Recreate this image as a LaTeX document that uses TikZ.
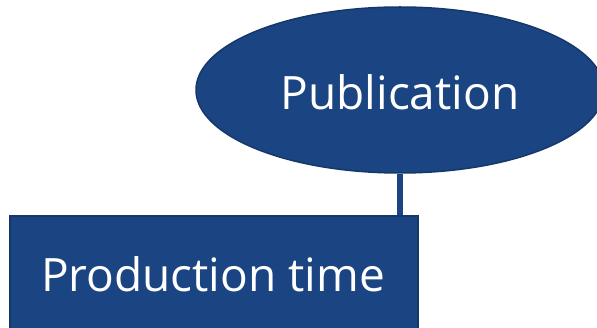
\documentclass[tikz,border=0pt]{standalone}
\usepackage{fontspec}
\setmainfont{Open Sans}
\usetikzlibrary{shapes.geometric}
\definecolor{boxblue}{HTML}{1B4482}
\definecolor{edgeblue}{HTML}{163868}
\begin{document}
\begin{tikzpicture}[x=1pt,y=-1pt,
  shapefill/.style={fill=boxblue,draw=edgeblue,line width=1.5pt,inner sep=0pt},
  lbl/.style={text=white,font=\fontsize{46}{50}\selectfont}]
\clip (0,0) rectangle (597,328);
\useasboundingbox (0,0) rectangle (597,328);
\fill[white] (0,0) rectangle (597,328);
\node[shapefill,ellipse,minimum width=408pt,minimum height=166pt] (pub) at (400,90) {};
\node[shapefill,rectangle,minimum width=408pt,minimum height=124pt] (prod) at (214,278) {};
\draw[boxblue,line width=6pt] (pub.south) -- (pub.south |- prod.north);
\node[lbl] (publabel) at (400,92) {Publication};
\node[lbl] (prodlabel) at (213,274) {Production time};
\end{tikzpicture}
\end{document}
